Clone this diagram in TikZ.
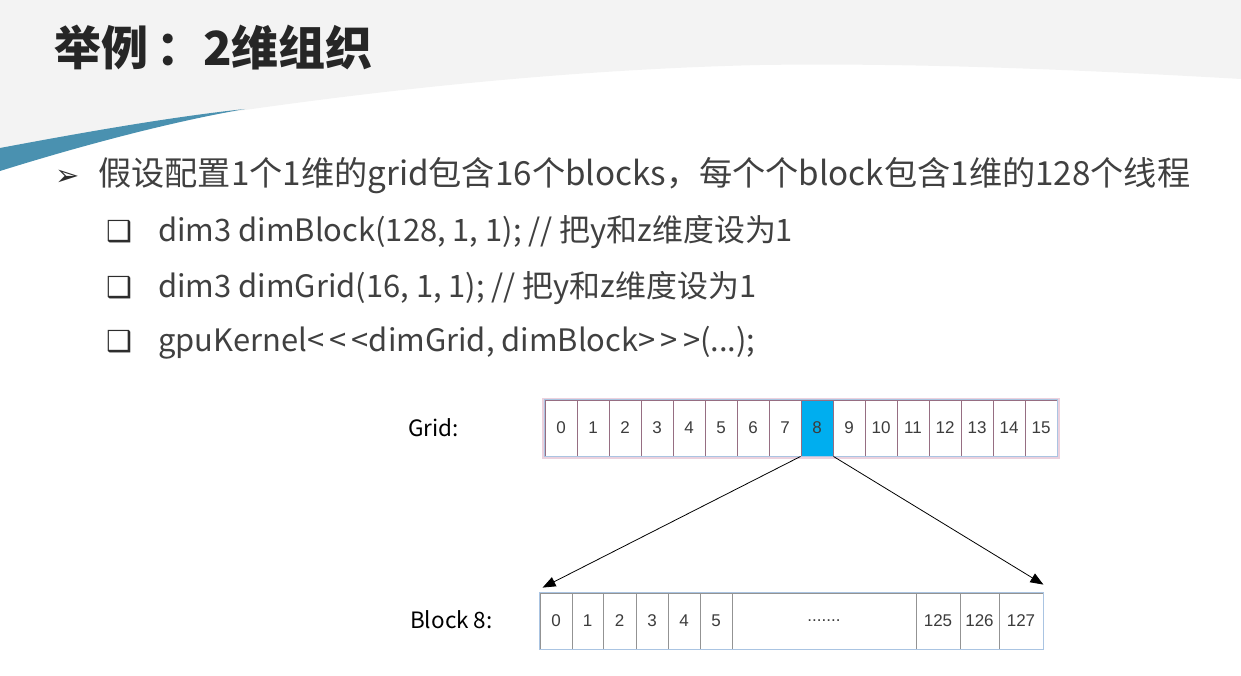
\documentclass[tikz,border=0pt]{standalone}
\usepackage{fontspec}
\setmainfont{Noto Sans CJK SC}
\newfontfamily\cjk{Noto Sans CJK SC}
\newfontfamily\arialf{Liberation Sans}
\newfontfamily\symf{DejaVu Sans}
\usetikzlibrary{arrows.meta,calc}
\definecolor{bggray}{RGB}{243,243,243}
\definecolor{wedge}{RGB}{74,145,176}
\definecolor{txt}{RGB}{64,64,64}
\definecolor{ttl}{RGB}{38,38,38}
\definecolor{mauve}{RGB}{150,110,130}
\definecolor{glow}{RGB}{226,190,208}
\definecolor{lblue}{RGB}{170,196,226}
\definecolor{cyanc}{RGB}{0,174,239}
\definecolor{numc}{RGB}{60,60,60}
\tikzset{
  body/.style={anchor=base west,inner sep=0pt,text=txt,font=\cjk\fontsize{33.2}{38}\selectfont},
  sub/.style={anchor=base west,inner sep=0pt,text=txt,font=\cjk\fontsize{30.9}{36}\selectfont},
  bul/.style={anchor=base west,inner sep=0pt,text=txt!70!black,font=\symf\fontsize{29}{32}\selectfont},
  gcell/.style={draw=mauve,line width=0.9pt,fill=white,minimum width=32pt,minimum height=56pt,inner sep=0pt,text=numc,font=\arialf\fontsize{17}{19}\selectfont},
  bcell/.style={draw=gray!85,line width=0.8pt,fill=white,minimum height=56pt,inner sep=0pt,text=numc,font=\arialf\fontsize{17}{19}\selectfont},
  lbl/.style={anchor=west,inner sep=0pt,text=black,font=\cjk\fontsize{22.5}{26}\selectfont},
  conn/.style={draw=black,line width=0.8pt,-{Triangle[length=13pt,width=10pt]}}
}
\begin{document}
\begin{tikzpicture}[x=1pt,y=-1pt]
\useasboundingbox (0,0) rectangle (1241,676);
% background
\fill[bggray] (0,0) -- (1241,0) -- (1241,79)
  .. controls (1050,68) and (900,63) .. (760,65)
  .. controls (550,70) and (300,95) .. (0,150) -- cycle;
\fill[wedge] (0,148) .. controls (80,133) and (170,117) .. (245,109)
  .. controls (170,122) and (80,146) .. (0,171) -- cycle;
% title
\node[anchor=base west,inner sep=0pt,text=ttl,font=\cjk\bfseries\fontsize{47}{52}\selectfont] (title) at (54,66) {举例\,：2维组织};
% bullets
\node[bul] (b1) at (55,186) {➢};
\node[body] (t1) at (98,186) {假设配置1个1维的grid包含16个blocks，每个个block包含1维的128个线程};
\node[bul] (s1) at (106,242) {❑};
\node[sub] (t2) at (158,242) {dim3 dimBlock(128, 1, 1); // 把y和z维度设为1};
\node[bul] (s2) at (106,297) {❑};
\node[sub] (t3) at (158,297) {dim3 dimGrid(16, 1, 1); // 把y和z维度设为1};
\node[bul] (s3) at (106,351) {❑};
\node[sub] (t4) at (158,351) {gpuKernel<\,<\,<dimGrid, dimBlock>\,>\,>(...);};
% grid
\draw[glow,line width=3pt,opacity=0.7] (543.5,399.5) rectangle (1058.5,457.5);
\foreach \i in {0,...,15} {
  \node[gcell] (g\i) at ({561+32*\i},428) {\i};
}
\node[gcell,fill=cyanc] (g8) at (817,428) {8};
\draw[lblue,line width=0.8pt] (g0.north west) rectangle (g15.south east);
\node[lbl] (gl) at (408,428) {Grid:};
% block
\node[bcell,minimum width=32pt] (c0) at (556,621) {0};
\node[bcell,minimum width=31pt] (c1) at (587.5,621) {1};
\node[bcell,minimum width=33pt] (c2) at (619.5,621) {2};
\node[bcell,minimum width=32pt] (c3) at (652,621) {3};
\node[bcell,minimum width=32pt] (c4) at (684,621) {4};
\node[bcell,minimum width=32pt] (c5) at (716,621) {5};
\node[bcell,minimum width=184pt] (cd) at (824,621) {.......};
\node[bcell,minimum width=44pt] (c125) at (938,621) {125};
\node[bcell,minimum width=39pt] (c126) at (979.5,621) {126};
\node[bcell,minimum width=44pt] (c127) at (1021,621) {127};
\draw[lblue,line width=0.8pt] (c0.north west) rectangle (c127.south east);
\node[lbl] (bl) at (410,620) {Block 8:};
% connectors
\coordinate (e1) at ($(c0.north west)+(3,-5)$);
\coordinate (e2) at ($(c127.north east)+(0,-8)$);
\draw[conn] (g8.south west) -- (e1);
\draw[conn] (g8.south east) -- (e2);
\end{tikzpicture}
\end{document}
